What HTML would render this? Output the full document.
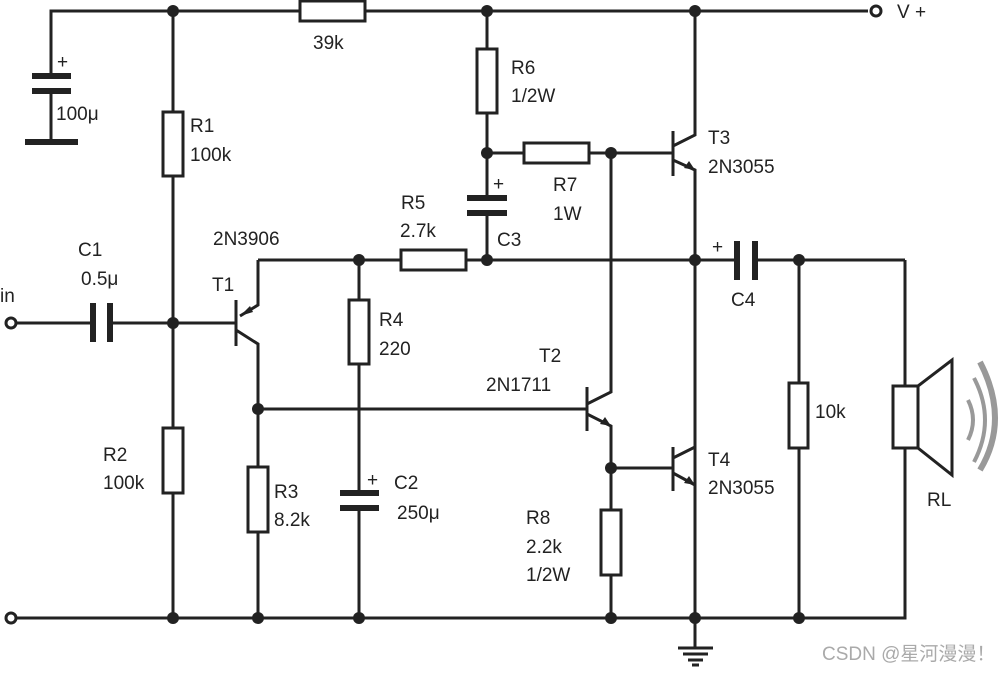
<!DOCTYPE html><html><head><style>body{margin:0;background:#fff}svg{display:block}text{font-family:"Liberation Sans","Noto Sans CJK SC",sans-serif;font-size:19px;fill:#222}</style></head><body>
<svg width="1000" height="673" viewBox="0 0 1000 673">
<g stroke="#222" stroke-width="3" fill="none">
<polyline points="51,76 51,11 868,11"/>
<line x1="51" y1="91" x2="51" y2="142"/>
<line x1="32" y1="76" x2="71" y2="76" stroke-width="6"/><line x1="32" y1="91" x2="71" y2="91" stroke-width="6"/>
<line x1="25" y1="142" x2="78" y2="142" stroke-width="6"/>
<rect x="300" y="1" width="65" height="20" fill="#fff"/>
<line x1="173" y1="11" x2="173" y2="618"/>
<rect x="163" y="112" width="20" height="64" fill="#fff"/>
<rect x="163" y="428" width="20" height="65" fill="#fff"/>
<line x1="17" y1="323" x2="93" y2="323"/><line x1="110" y1="323" x2="236" y2="323"/>
<line x1="93" y1="303" x2="93" y2="342" stroke-width="6"/><line x1="110" y1="303" x2="110" y2="342" stroke-width="6"/>
<line x1="236" y1="300" x2="236" y2="346"/>
<polyline points="258,260 258,305 240,316"/>
<polyline points="236,330 258,344 258,618"/>
<line x1="258" y1="260" x2="737" y2="260"/>
<line x1="755" y1="260" x2="905" y2="260"/>
<rect x="401" y="250" width="65" height="20" fill="#fff"/>
<line x1="359" y1="260" x2="359" y2="493"/>
<line x1="359" y1="508" x2="359" y2="618"/>
<rect x="349" y="300" width="20" height="64" fill="#fff"/>
<line x1="340" y1="493" x2="379" y2="493" stroke-width="6"/><line x1="340" y1="508" x2="379" y2="508" stroke-width="6"/>
<line x1="258" y1="409" x2="587" y2="409"/>
<rect x="248" y="467" width="20" height="65" fill="#fff"/>
<line x1="487" y1="11" x2="487" y2="198"/>
<line x1="487" y1="213" x2="487" y2="260"/>
<rect x="477" y="49" width="20" height="64" fill="#fff"/>
<line x1="467" y1="198" x2="507" y2="198" stroke-width="6"/><line x1="467" y1="213" x2="507" y2="213" stroke-width="6"/>
<line x1="487" y1="153" x2="673" y2="153"/>
<rect x="524" y="143" width="65" height="20" fill="#fff"/>
<polyline points="611,153 611,392 587,404"/>
<line x1="587" y1="387" x2="587" y2="431"/>
<polyline points="587,414 611,426 611,618"/>
<line x1="611" y1="468" x2="673" y2="468"/>
<rect x="601" y="510" width="20" height="65" fill="#fff"/>
<line x1="673" y1="131" x2="673" y2="176"/>
<polyline points="695,11 695,135 673,146"/>
<polyline points="673,160 695,170 695,648"/>
<line x1="673" y1="447" x2="673" y2="491"/>
<polyline points="695,447 673,458"/>
<polyline points="673,473 695,485"/>
<line x1="737" y1="241" x2="737" y2="280" stroke-width="6"/><line x1="755" y1="241" x2="755" y2="280" stroke-width="6"/>
<line x1="799" y1="260" x2="799" y2="618"/>
<rect x="789" y="383" width="19" height="65" fill="#fff"/>
<polyline points="905,260 905,618 17,618"/>
<rect x="893" y="386" width="25" height="62" fill="#fff"/>
<polygon points="918,386 952,360 952,475 918,448" fill="#fff"/>
<line x1="678" y1="648" x2="713" y2="648"/><line x1="683" y1="654" x2="708" y2="654"/><line x1="688" y1="660" x2="703" y2="660"/><line x1="692" y1="665" x2="699" y2="665"/>
<circle cx="11" cy="323" r="5" fill="#fff"/><circle cx="11" cy="618" r="5" fill="#fff"/><circle cx="876" cy="11" r="5" fill="#fff"/>
</g>
<g fill="#222">
<polygon points="240,316 250,306 253,312"/>
<polygon points="611,426 600,424 605,417"/>
<polygon points="695,170 684,168 689,161"/>
<polygon points="695,485 684,483 689,476"/>
<circle cx="173" cy="11" r="6"/><circle cx="487" cy="11" r="6"/><circle cx="695" cy="11" r="6"/>
<circle cx="487" cy="153" r="6"/><circle cx="611" cy="153" r="6"/>
<circle cx="359" cy="260" r="6"/><circle cx="487" cy="260" r="6"/><circle cx="695" cy="260" r="6"/><circle cx="799" cy="260" r="6"/>
<circle cx="173" cy="323" r="6"/><circle cx="258" cy="409" r="6"/><circle cx="611" cy="468" r="6"/>
<circle cx="173" cy="618" r="6"/><circle cx="258" cy="618" r="6"/><circle cx="359" cy="618" r="6"/><circle cx="611" cy="618" r="6"/><circle cx="695" cy="618" r="6"/><circle cx="799" cy="618" r="6"/>
</g>
<g fill="none" stroke="#999" stroke-width="4">
<path d="M968,400 Q978,420 968,440"/>
<path d="M974,378 Q996,420 974,462"/>
<path d="M980,362 Q1010,420 980,470" stroke-width="6"/>
</g>
<text x="313" y="49">39k</text>
<text x="56" y="120">100μ</text><text x="57" y="68" font-size="17">+</text>
<text x="190" y="132">R1</text><text x="190" y="161">100k</text>
<text x="511" y="74">R6</text><text x="511" y="102">1/2W</text>
<text x="401" y="209">R5</text><text x="400" y="237">2.7k</text>
<text x="493" y="190" font-size="17">+</text><text x="497" y="246">C3</text>
<text x="553" y="191">R7</text><text x="553" y="220">1W</text>
<text x="708" y="144">T3</text><text x="708" y="173">2N3055</text>
<text x="897" y="18">V +</text>
<text x="213" y="245">2N3906</text>
<text x="78" y="256">C1</text><text x="81" y="285">0.5μ</text>
<text x="0" y="302">in</text><text x="212" y="291">T1</text>
<text x="379" y="326">R4</text><text x="379" y="355">220</text>
<text x="712" y="253" font-size="17">+</text><text x="731" y="306">C4</text>
<text x="539" y="362">T2</text><text x="486" y="391">2N1711</text>
<text x="815" y="418">10k</text>
<text x="708" y="466">T4</text><text x="708" y="494">2N3055</text>
<text x="103" y="461">R2</text><text x="103" y="489">100k</text>
<text x="274" y="498">R3</text><text x="274" y="526">8.2k</text>
<text x="367" y="486" font-size="17">+</text><text x="394" y="489">C2</text><text x="397" y="519">250μ</text>
<text x="526" y="524">R8</text><text x="526" y="553">2.2k</text><text x="526" y="581">1/2W</text>
<text x="927" y="506">RL</text>
<text x="822" y="660" font-size="16" style="fill:#aaa">CSDN @星河漫漫！</text>
</svg></body></html>
